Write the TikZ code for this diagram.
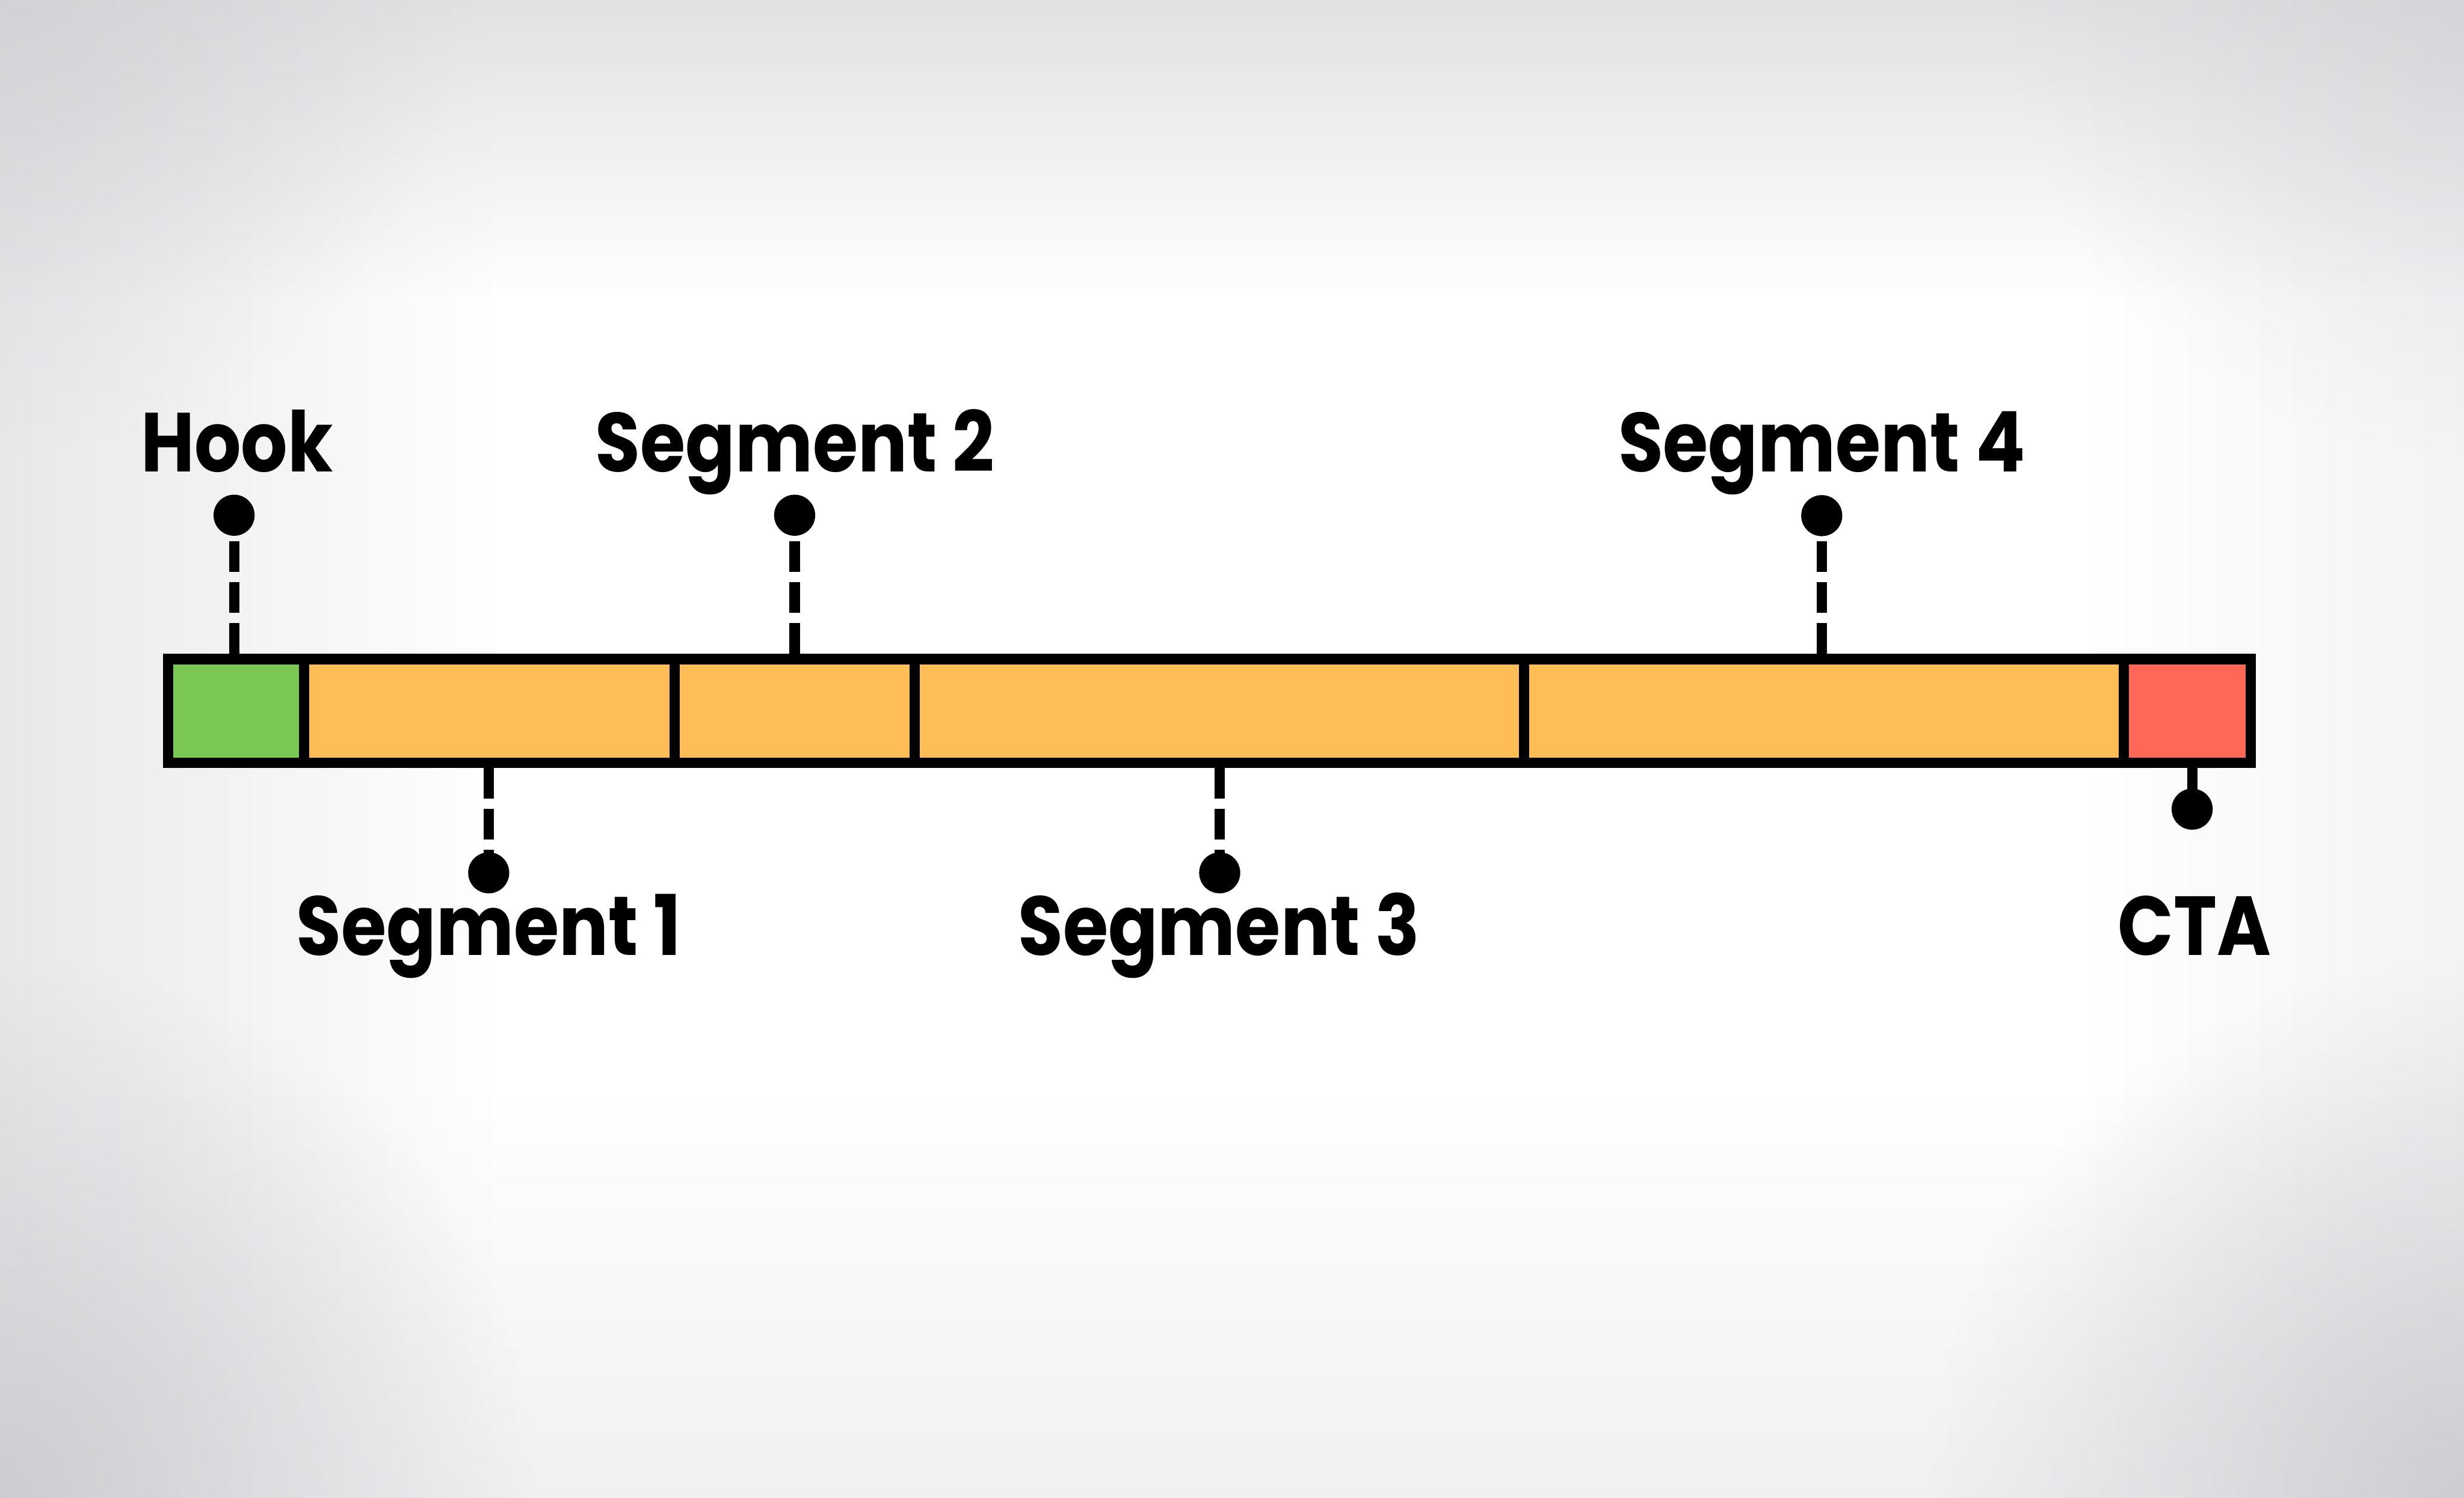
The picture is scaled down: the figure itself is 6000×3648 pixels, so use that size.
\documentclass[tikz,border=0pt]{standalone}
\usepackage{fontspec}
\newfontfamily\labelfont{Poppins}[FakeStretch=0.875]
\usetikzlibrary{fadings}
\definecolor{hookgreen}{HTML}{7AC853}
\definecolor{segorange}{HTML}{FEBD56}
\definecolor{ctared}{HTML}{FF6757}
\definecolor{vigtopc}{HTML}{D8D7DB}
\definecolor{vigleftc}{HTML}{E1E0E4}
\definecolor{vigrightc}{HTML}{F0EFF3}
\definecolor{vigbotc}{HTML}{ECEBEF}
\definecolor{vigcorner}{HTML}{C8C7CB}
\tikzfading[name=fadeL, left color=transparent!0, right color=transparent!100]
\tikzfading[name=fadeR, right color=transparent!0, left color=transparent!100]
\tikzfading[name=fadeT, top color=transparent!0, bottom color=transparent!100]
\tikzfading[name=fadeB, bottom color=transparent!0, top color=transparent!100]
\tikzfading[name=fadeC, inner color=transparent!0, outer color=transparent!100]
\tikzset{
  cell/.style={draw=black, line width=0.25cm, inner sep=0pt, outer sep=0pt, minimum height=2.52cm},
  dot/.style={circle, fill=black, inner sep=0pt, minimum size=1cm},
  lead/.style={line width=0.25cm, dash pattern=on 0.75cm off 0.25cm, dash phase=0.875cm},
  solidlead/.style={line width=0.25cm},
  lbl/.style={font=\labelfont\bfseries\fontsize{58}{60}\selectfont, anchor=base, inner sep=0pt}
}
\begin{document}
\begin{tikzpicture}[x=0.01cm, y=-0.01cm]
  \useasboundingbox (0,0) rectangle (6000,3648);
  \fill[white] (0,0) rectangle (6000,3648);
  \begin{scope}
    \clip (0,0) rectangle (6000,3648);
    % each fading ramps over the middle half of its rectangle
    \fill[vigleftc, path fading=fadeL] (-400,-10) rectangle (1200,3658);
    \fill[vigrightc, path fading=fadeR] (5100,-10) rectangle (6300,3658);
    \fill[vigtopc, path fading=fadeT] (-10,-240) rectangle (6010,720);
    \fill[vigbotc, path fading=fadeB] (-10,2670) rectangle (6010,3973);
    \fill[vigcorner, path fading=fadeC, fill opacity=0.85] (0,3648) circle (1300);
    \fill[vigcorner, path fading=fadeC, fill opacity=0.85] (6000,3648) circle (1300);
    \fill[vigcorner, path fading=fadeC, fill opacity=0.45] (0,0) circle (1100);
    \fill[vigcorner, path fading=fadeC, fill opacity=0.4] (6000,0) circle (1100);
  \end{scope}

  % bar cells
  \node[cell, fill=hookgreen, minimum width=3.315cm] (hookc) at (575.25,1731.5) {};
  \node[cell, fill=segorange, minimum width=9.02cm] (s1c) at (1192,1731.5) {};
  \node[cell, fill=segorange, minimum width=5.85cm] (s2c) at (1935.5,1731.5) {};
  \node[cell, fill=segorange, minimum width=14.84cm] (s3c) at (2970,1731.5) {};
  \node[cell, fill=segorange, minimum width=14.59cm] (s4c) at (4441.5,1731.5) {};
  \node[cell, fill=ctared, minimum width=3.095cm] (ctac) at (5325.75,1731.5) {};

  % dots
  \node[dot] (hookdot) at (570,1255) {};
  \node[dot] (s1dot) at (1190,2126) {};
  \node[dot] (s2dot) at (1935,1255) {};
  \node[dot] (s3dot) at (2970,2126) {};
  \node[dot] (s4dot) at (4436,1256) {};
  \node[dot] (ctadot) at (5338,1971) {};

  % connectors
  \draw[lead] (hookc.north -| hookdot) -- (hookdot.center);
  \draw[lead] (s1c.south -| s1dot) -- (s1dot.center);
  \draw[lead] (s2c.north -| s2dot) -- (s2dot.center);
  \draw[lead] (s3c.south -| s3dot) -- (s3dot.center);
  \draw[lead] (s4c.north -| s4dot) -- (s4dot.center);
  \draw[solidlead] (ctac.south -| ctadot) -- (ctadot.center);

  % labels
  \node[lbl] (hooklbl) at (577,1149) {Hook};
  \node[lbl] (s2lbl) at (1936,1149) {Segment 2};
  \node[lbl] (s4lbl) at (4436,1149) {Segment 4};
  \node[lbl] (s1lbl) at (1190,2327) {Segment 1};
  \node[lbl] (s3lbl) at (2968,2327) {Segment 3};
  \node[lbl] (ctalbl) at (5343,2327) {CTA};
\end{tikzpicture}
\end{document}
